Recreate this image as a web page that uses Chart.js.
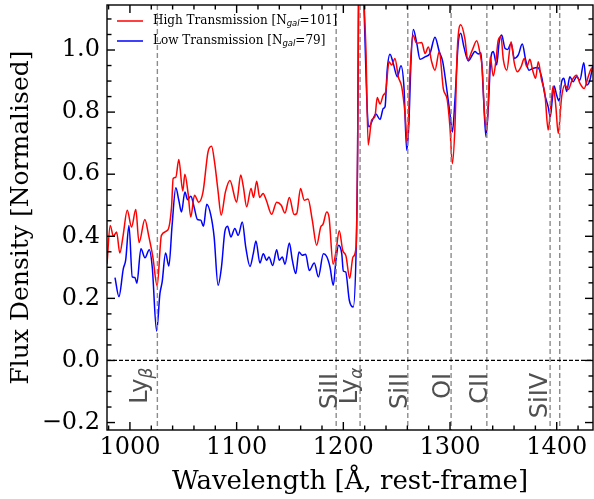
<!DOCTYPE html>
<html lang="en">
<head>
    <meta charset="UTF-8">
    <title>Stacked spectra: high vs low transmission</title>
    <script src="https://cdn.jsdelivr.net/npm/chart.js"></script>
    <style>
        body { margin: 0; background: #fff; }
        canvas { display: block; }
    </style>
</head>
<body>
    <canvas id="specChart" width="594" height="499"></canvas>

    <script>
        // High transmission stack (red)
        const highWave = [
            978.5, 981.5, 984.5, 987.5, 990.5, 993.5, 997.5, 1001.5, 1005.5, 1008.5,
            1014, 1017.5, 1021.5, 1025.5, 1029.5, 1035.5, 1039, 1040.5, 1043, 1045.8,
            1049.5, 1051.5, 1054.5, 1057, 1060.5, 1064.5, 1068.5, 1073.2, 1076.5, 1079.5,
            1082.5, 1085.5, 1089.5, 1093.7, 1100, 1103.8, 1106.3, 1109.4, 1113.5, 1115.8,
            1118.8, 1121.6, 1124.8, 1127.8, 1132.8, 1137.5, 1141.8, 1145.3, 1149.4, 1153.9,
            1156.3, 1159.9, 1163.4, 1166.9, 1170.9, 1175, 1178.8, 1181, 1184.4, 1186.6,
            1190.4, 1193, 1196.2, 1199.4, 1202.5, 1206, 1209, 1212, 1213.4, 1214.2,
            1215.2, 1216.2, 1217.5, 1219, 1221.2, 1223.3, 1226.5, 1229.6, 1231.8, 1234.4,
            1237.5, 1239.7, 1242.8, 1245.3, 1248.4, 1251.5, 1254.7, 1257.8, 1260, 1262.5,
            1265.1, 1268.8, 1273.5, 1276.6, 1279.7, 1282.8, 1285.9, 1289.9, 1293.7, 1297.4,
            1299.9, 1302.2, 1304.6, 1306.8, 1310, 1314, 1316.6, 1320.9, 1325, 1328.1,
            1330.3, 1332.1, 1334.3, 1335.9, 1337.7, 1340.5, 1343.1, 1345.2, 1347.7, 1350,
            1353.2, 1357.2, 1360.3, 1363.1, 1366.6, 1369.6, 1371.9, 1374.9, 1377.4, 1380.2,
            1382.7, 1385.8, 1388.9, 1392, 1394.4, 1396.7, 1399.2, 1401.4, 1404.6, 1407.7,
            1410.8, 1414.4, 1418.6, 1421.7, 1425.7, 1429.5, 1432.8, 1434
        ];
        const highFlux = [
            0.31, 0.435, 0.40, 0.414, 0.346, 0.40, 0.484, 0.43, 0.486, 0.38,
            0.454, 0.403, 0.333, 0.24, 0.403, 0.42, 0.495, 0.586, 0.59, 0.647,
            0.546, 0.60, 0.538, 0.462, 0.532, 0.51, 0.543, 0.672, 0.69, 0.634,
            0.548, 0.468, 0.543, 0.58, 0.51, 0.597, 0.559, 0.495, 0.554, 0.525,
            0.577, 0.525, 0.538, 0.516, 0.471, 0.51, 0.50, 0.475, 0.525, 0.47,
            0.473, 0.554, 0.516, 0.52, 0.452, 0.371, 0.43, 0.439, 0.478, 0.462,
            0.31, 0.349, 0.418, 0.355, 0.336, 0.264, 0.333, 0.366, 0.68, 1.10,
            1.45, 1.55, 1.45, 1.2, 1.0, 0.694, 0.774, 0.785, 0.847, 0.826,
            0.855, 0.866, 0.962, 0.952, 0.973, 0.914, 0.882, 0.796, 0.70, 0.925,
            1.048, 1.022, 1.024, 0.989, 1.01, 0.962, 0.935, 0.995, 0.876, 0.839,
            0.753, 0.634, 0.753, 1.0, 1.081, 1.035, 0.968, 1.0, 1.03, 0.989,
            0.935, 0.806, 0.742, 0.839, 0.978, 0.916, 0.968, 1.032, 1.043, 0.968,
            0.935, 1.027, 0.957, 0.930, 0.946, 0.973, 0.946, 0.97, 0.935, 0.909,
            0.962, 0.903, 0.86, 0.742, 0.817, 0.884, 0.817, 0.731, 0.849, 0.887,
            0.873, 0.903, 0.919, 0.893, 0.876, 0.914, 0.941, 0.93
        ];

        // Low transmission stack (blue)
        const lowWave = [
            986, 989.7, 993.8, 996, 999.1, 1002.2, 1004.7, 1006.5, 1010.3, 1014.1,
            1018.1, 1020.9, 1025, 1028.1, 1030.2, 1033.4, 1036.5, 1039.5, 1043, 1045.8,
            1048.3, 1051.5, 1054, 1057.1, 1060.2, 1063.3, 1066.4, 1068.9, 1072, 1075.8,
            1078.9, 1082.6, 1085.8, 1088.9, 1091.5, 1094.6, 1098.3, 1101.5, 1105.3, 1108.5,
            1112.5, 1115.6, 1118.1, 1121.8, 1125, 1128.1, 1130.3, 1133.8, 1137.5, 1139.9,
            1142.8, 1145.3, 1149.4, 1152.2, 1155.4, 1158.4, 1161.5, 1164.7, 1168.1, 1172.8,
            1176.6, 1181.3, 1184.4, 1187.5, 1190.6, 1193.1, 1195.5, 1198.5, 1200, 1202.2,
            1205.6, 1209.3, 1212, 1213.4, 1214.2, 1215.2, 1216.2, 1217.3, 1219.3, 1221,
            1222.5, 1224, 1228, 1230.5, 1234.4, 1237.5, 1239.1, 1241.1, 1243.7, 1246.8,
            1250.6, 1254, 1256.8, 1259.4, 1261.6, 1263.2, 1265.6, 1268.8, 1271.9, 1276.6,
            1281.2, 1285.9, 1289.9, 1293.2, 1296.2, 1299.9, 1302.2, 1304.6, 1307.7, 1310,
            1313, 1317.2, 1320.9, 1323.3, 1326.5, 1329, 1331.2, 1333.7, 1335.9, 1338.1,
            1340.5, 1343.7, 1346.1, 1348.4, 1351.6, 1354.1, 1357.2, 1360.3, 1364, 1367.7,
            1370.9, 1374, 1378, 1382.1, 1385.8, 1388.9, 1392, 1393.9, 1395.8, 1397.6,
            1399.9, 1402.1, 1404.6, 1406.7, 1409.3, 1412.3, 1415.4, 1418.6, 1421.7, 1425.4,
            1428, 1431.1, 1433.7
        ];
        const lowFlux = [
            0.267, 0.206, 0.296, 0.323, 0.435, 0.269, 0.267, 0.249, 0.36, 0.331,
            0.357, 0.301, 0.095, 0.215, 0.253, 0.346, 0.304, 0.435, 0.556, 0.516,
            0.478, 0.543, 0.518, 0.529, 0.493, 0.454, 0.452, 0.432, 0.503, 0.468,
            0.398, 0.242, 0.301, 0.414, 0.432, 0.398, 0.425, 0.403, 0.446, 0.366,
            0.303, 0.344, 0.385, 0.314, 0.344, 0.323, 0.333, 0.306, 0.357, 0.323,
            0.333, 0.31, 0.378, 0.323, 0.28, 0.349, 0.339, 0.342, 0.29, 0.314,
            0.269, 0.344, 0.335, 0.301, 0.242, 0.323, 0.371, 0.344, 0.288, 0.285,
            0.194, 0.172, 0.355, 0.68, 1.15, 1.50, 1.60, 1.45, 1.15, 0.95,
            0.80, 0.753, 0.78, 0.794, 0.776, 0.812, 0.817, 0.935, 0.986, 0.957,
            0.914, 0.949, 0.882, 0.677, 0.774, 0.946, 1.066, 1.022, 0.97, 0.978,
            0.989, 1.041, 0.995, 0.962, 0.893, 0.796, 0.736, 0.839, 1.022, 1.054,
            1.01, 0.965, 0.984, 0.995, 0.987, 0.991, 0.86, 0.72, 0.817, 0.968,
            0.995, 0.952, 1.027, 1.048, 1.005, 1.002, 1.022, 0.973, 0.984, 1.019,
            0.968, 0.935, 0.941, 0.944, 0.914, 0.855, 0.817, 0.785, 0.839, 0.884,
            0.855, 0.836, 0.898, 0.909, 0.866, 0.914, 0.898, 0.914, 0.903, 0.959,
            0.887, 0.903, 0.948
        ];

        // Absorption / emission features (dashed lines) and their labels
        const featureWaves = [1025.7, 1193.3, 1215.7, 1260.4, 1301, 1334.5, 1393.8, 1402.8];
        const labelText = ['Ly', 'SiII', 'Ly', 'SiII', 'OI', 'CII', 'SiIV'];
        const labelSub = ['β', '', 'α', '', '', '', ''];
        const labelWave = [1015.7, 1193.8, 1212.8, 1259.4, 1300, 1334.4, 1390.6];
        const labelTop = [-0.023, -0.04, -0.023, -0.04, -0.04, -0.04, -0.04];

        // Axis ticks
        const xTicks = [1000, 1100, 1200, 1300, 1400];
        const yTicks = [-0.2, 0.0, 0.2, 0.4, 0.6, 0.8, 1.0];
        const xMinorStep = 20;
        const yMinorStep = 0.05;

        const legendLabels = [
            { color: '#ff0000', text: 'High Transmission [N', sub: 'gal', tail: '=101]' },
            { color: '#0000ff', text: 'Low Transmission [N', sub: 'gal', tail: '=79]' }
        ];

        const SERIF = '"DejaVu Serif", serif';
        const SANS = '"DejaVu Sans", sans-serif';

        function toPoints(xs, ys) {
            return xs.map((x, i) => ({ x: x, y: ys[i] }));
        }

        // Everything matplotlib draws that Chart.js doesn't: dashed lines, labels, ticks, frame, legend
        const overlay = {
            id: 'overlay',
            afterDatasetsDraw(chart) {
                const { ctx, chartArea: a, scales: { x, y } } = chart;

                // dashed feature lines + zero line, clipped to the plot
                ctx.save();
                ctx.beginPath();
                ctx.rect(a.left, a.top, a.right - a.left, a.bottom - a.top);
                ctx.clip();
                ctx.lineWidth = 1.4;
                ctx.strokeStyle = '#8c8c8c';
                ctx.setLineDash([5, 3]);
                featureWaves.forEach(w => {
                    const px = x.getPixelForValue(w);
                    ctx.beginPath();
                    ctx.moveTo(px, a.top);
                    ctx.lineTo(px, a.bottom);
                    ctx.stroke();
                });
                ctx.strokeStyle = '#000';
                ctx.lineWidth = 1.3;
                ctx.setLineDash([4, 2]);
                const y0 = y.getPixelForValue(0);
                ctx.beginPath();
                ctx.moveTo(a.left, y0);
                ctx.lineTo(a.right, y0);
                ctx.stroke();
                ctx.restore();

                // rotated feature labels
                ctx.save();
                ctx.fillStyle = '#505050';
                ctx.textBaseline = 'alphabetic';
                labelText.forEach((t, i) => {
                    const bx = x.getPixelForValue(labelWave[i]);
                    const ey = y.getPixelForValue(labelTop[i]);
                    ctx.font = '24px ' + SANS;
                    const w1 = ctx.measureText(t).width;
                    ctx.font = 'italic 17px ' + SANS;
                    const w2 = labelSub[i] ? ctx.measureText(labelSub[i]).width : 0;
                    ctx.save();
                    ctx.translate(bx, ey);
                    ctx.rotate(-Math.PI / 2);
                    ctx.font = '24px ' + SANS;
                    ctx.textAlign = 'left';
                    ctx.fillText(t, -(w1 + w2), 0);
                    if (labelSub[i]) {
                        ctx.font = 'italic 17px ' + SANS;
                        ctx.fillText(labelSub[i], -w2, 5);
                    }
                    ctx.restore();
                });
                ctx.restore();

                // frame and inward ticks on all four sides
                ctx.save();
                ctx.strokeStyle = '#000';
                ctx.lineWidth = 1.4;
                ctx.strokeRect(a.left, a.top, a.right - a.left, a.bottom - a.top);
                const tick = (x1, y1, x2, y2) => {
                    ctx.beginPath();
                    ctx.moveTo(x1, y1);
                    ctx.lineTo(x2, y2);
                    ctx.stroke();
                };
                for (let v = Math.ceil(x.min / xMinorStep) * xMinorStep; v <= x.max; v += xMinorStep) {
                    const px = x.getPixelForValue(v);
                    const len = xTicks.includes(v) ? 8 : 4.5;
                    tick(px, a.bottom, px, a.bottom - len);
                    tick(px, a.top, px, a.top + len);
                }
                for (let k = Math.ceil(y.min / yMinorStep); k * yMinorStep <= y.max; k++) {
                    const v = Math.round(k * yMinorStep * 100) / 100;
                    const py = y.getPixelForValue(v);
                    const len = yTicks.some(t => Math.abs(t - v) < 1e-6) ? 8 : 4.5;
                    tick(a.left, py, a.left + len, py);
                    tick(a.right, py, a.right - len, py);
                }
                ctx.restore();

                // legend (no frame), with N_gal subscript
                ctx.save();
                ctx.textBaseline = 'middle';
                legendLabels.forEach((item, i) => {
                    const ly = a.top + 16 + i * 20;
                    ctx.strokeStyle = item.color;
                    ctx.lineWidth = 1.5;
                    ctx.beginPath();
                    ctx.moveTo(a.left + 10, ly);
                    ctx.lineTo(a.left + 36, ly);
                    ctx.stroke();
                    ctx.fillStyle = '#000';
                    let tx = a.left + 46;
                    ctx.font = '12px ' + SERIF;
                    ctx.fillText(item.text, tx, ly);
                    tx += ctx.measureText(item.text).width;
                    ctx.font = 'italic 8.5px ' + SANS;
                    ctx.fillText(item.sub, tx, ly + 3);
                    tx += ctx.measureText(item.sub).width;
                    ctx.font = '12px ' + SERIF;
                    ctx.fillText(item.tail, tx, ly);
                });
                ctx.restore();
            }
        };

        const ctx = document.getElementById('specChart').getContext('2d');
        const specChart = new Chart(ctx, {
            type: 'line',
            data: {
                datasets: [
                    {
                        label: 'High Transmission',
                        data: toPoints(highWave, highFlux),
                        borderColor: '#ff0000',
                        borderWidth: 1.5,
                        pointRadius: 0,
                        cubicInterpolationMode: 'monotone',
                        fill: false
                    },
                    {
                        label: 'Low Transmission',
                        data: toPoints(lowWave, lowFlux),
                        borderColor: '#0000ff',
                        borderWidth: 1.5,
                        pointRadius: 0,
                        cubicInterpolationMode: 'monotone',
                        fill: false
                    }
                ]
            },
            options: {
                responsive: false,
                animation: false,
                devicePixelRatio: 1,
                layout: { padding: { top: 5, right: 1, left: 0, bottom: 0 } },
                plugins: { legend: { display: false }, tooltip: { enabled: false } },
                scales: {
                    x: {
                        type: 'linear',
                        min: 978.5,
                        max: 1434,
                        afterFit: s => { s.height = 69; s.paddingLeft = 0; s.paddingRight = 0; },
                        afterBuildTicks: s => { s.ticks = xTicks.map(v => ({ value: v })); },
                        grid: { display: false, drawTicks: false },
                        border: { display: false },
                        ticks: {
                            font: { family: SERIF, size: 24 },
                            color: '#000',
                            padding: 3,
                            maxRotation: 0,
                            autoSkip: false,
                            callback: v => String(v)
                        },
                        title: {
                            display: true,
                            text: 'Wavelength [Å, rest-frame]',
                            font: { family: SERIF, size: 26 },
                            color: '#000',
                            padding: { top: 0, bottom: 1 }
                        }
                    },
                    y: {
                        min: -0.224,
                        max: 1.145,
                        afterFit: s => { s.width = 107; s.paddingTop = 0; s.paddingBottom = 0; },
                        afterBuildTicks: s => { s.ticks = yTicks.map(v => ({ value: v })); },
                        grid: { display: false, drawTicks: false },
                        border: { display: false },
                        ticks: {
                            font: { family: SERIF, size: 24 },
                            color: '#000',
                            padding: 7,
                            callback: v => (v < 0 ? '\u2212' : '') + Math.abs(v).toFixed(1)
                        },
                        title: {
                            display: true,
                            text: 'Flux Density [Normalised]',
                            font: { family: SERIF, size: 25 },
                            color: '#000',
                            padding: { top: 6, bottom: 0 }
                        }
                    }
                }
            },
            plugins: [overlay]
        });
    </script>
</body>
</html>
